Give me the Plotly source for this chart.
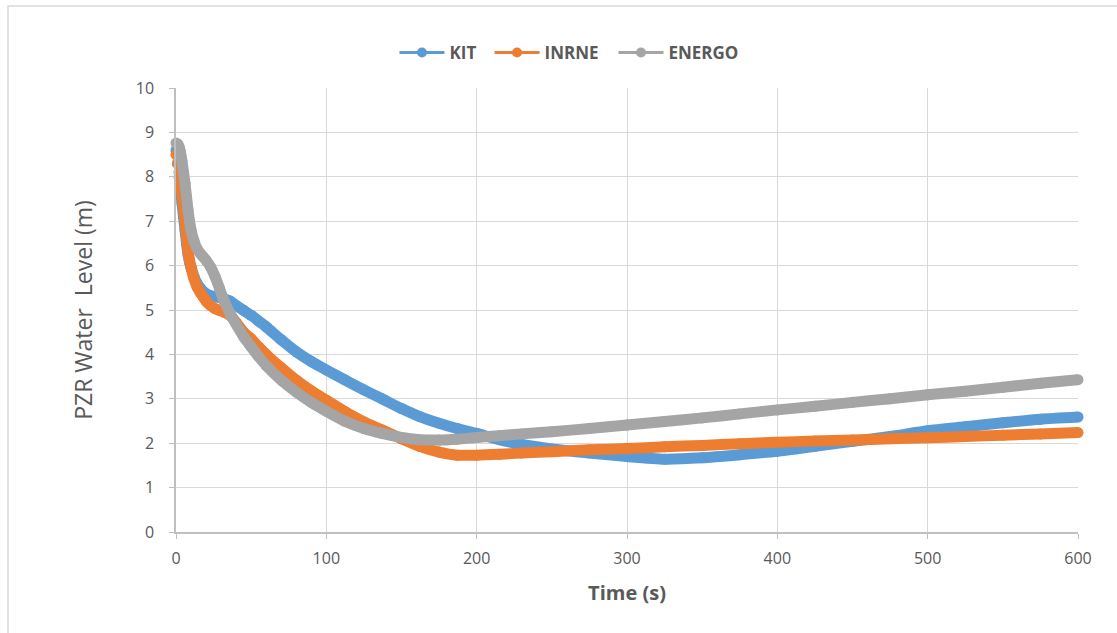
import plotly.graph_objects as go

# Time axis (s) shared by all three calculations
time_s = [0, 1, 2, 3, 4, 5, 6, 7, 8, 9, 10, 12, 14, 16, 18, 20, 23, 26, 29, 32, 36, 40,
          45, 50, 55, 60, 70, 80, 90, 100, 112, 125, 137, 150, 162, 175, 187, 200, 215,
          230, 250, 275, 300, 325, 350, 375, 400, 425, 450, 475, 500, 525, 550, 575, 600]

# Pressurizer water level (m)
kit = [8.6, 8.3, 8.0, 7.7, 7.4, 7.1, 6.8, 6.5, 6.25, 6.08, 5.97, 5.75, 5.6, 5.5, 5.42, 5.37,
       5.32, 5.3, 5.28, 5.25, 5.2, 5.1, 4.99, 4.88, 4.75, 4.62, 4.33, 4.06, 3.84, 3.65, 3.43,
       3.2, 3.0, 2.78, 2.6, 2.45, 2.33, 2.22, 2.08, 1.97, 1.87, 1.78, 1.70, 1.64, 1.67, 1.74,
       1.82, 1.93, 2.04, 2.15, 2.28, 2.37, 2.46, 2.54, 2.59]
inrne = [8.5, 8.3, 8.1, 7.9, 7.6, 7.3, 7.0, 6.65, 6.35, 6.12, 5.95, 5.7, 5.52, 5.4, 5.3, 5.2,
         5.1, 5.03, 4.99, 4.95, 4.88, 4.72, 4.5, 4.35, 4.17, 4.0, 3.7, 3.42, 3.18, 2.97, 2.72,
         2.48, 2.3, 2.1, 1.93, 1.8, 1.73, 1.73, 1.75, 1.78, 1.81, 1.85, 1.88, 1.92, 1.95, 1.99,
         2.02, 2.05, 2.07, 2.1, 2.12, 2.15, 2.18, 2.21, 2.24]
energo = [8.76, 8.74, 8.68, 8.55, 8.35, 8.1, 7.85, 7.55, 7.25, 7.0, 6.8, 6.55, 6.38, 6.28, 6.2,
          6.12, 5.97, 5.75, 5.48, 5.2, 4.92, 4.68, 4.4, 4.17, 3.95, 3.75, 3.42, 3.15, 2.92, 2.72,
          2.5, 2.33, 2.22, 2.13, 2.08, 2.07, 2.09, 2.13, 2.17, 2.21, 2.26, 2.33, 2.41, 2.49, 2.57,
          2.66, 2.75, 2.83, 2.92, 3.0, 3.09, 3.17, 3.26, 3.35, 3.43]

series = [("KIT", kit, "#5B9BD5"), ("INRNE", inrne, "#ED7D31"), ("ENERGO", energo, "#A5A5A5")]
legend_ids = ["legend", "legend2", "legend3"]
legend_x = [0.2422, 0.3476, 0.4850]  # left edge of each legend entry (paper units)

TICK_FONT = dict(family="Open Sans", size=16, color="#595959")
LEGEND_FONT = dict(family="Open Sans", size=17, color="#595959", weight="bold")
AXIS_GREY = "#BFBFBF"
GRID_GREY = "#D9D9D9"
BAND = 11  # thickness of the dense-marker band

fig = go.Figure()
for (name, values, color), lid in zip(series, legend_ids):
    fig.add_trace(go.Scatter(
        x=time_s, y=values, name=name, mode="lines+markers",
        line=dict(color=color, width=BAND, shape="spline", smoothing=0.6, simplify=False),
        marker=dict(color=color, size=BAND, line=dict(width=0)),
        cliponaxis=False, showlegend=False,
    ))
    # legend entry: thin line with a single marker
    fig.add_trace(go.Scatter(
        x=[None], y=[None], name=name, mode="lines+markers",
        line=dict(color=color, width=3),
        marker=dict(color=color, size=10),
        legend=lid,
    ))

legend_y = (532 - 53) / 444
legends = {}
for lid, lx in zip(legend_ids, legend_x):
    legends[lid] = dict(
        orientation="h", x=lx, xanchor="left", y=legend_y, yanchor="middle",
        font=LEGEND_FONT, itemwidth=45, bgcolor="rgba(0,0,0,0)",
    )

fig.update_layout(
    width=1117, height=633,
    margin=dict(l=176, r=39, t=88, b=101),
    paper_bgcolor="white", plot_bgcolor="white",
    font=dict(family="Open Sans", color="#595959"),
    **legends,
    xaxis=dict(
        range=[0, 600], dtick=100, tick0=0,
        showgrid=True, gridcolor=GRID_GREY, gridwidth=1,
        showline=True, linecolor=AXIS_GREY, linewidth=1.5,
        ticks="outside", ticklen=5, tickcolor=AXIS_GREY,
        tickfont=TICK_FONT, ticklabelstandoff=6, zeroline=False,
        title=dict(text="Time (s)", standoff=18,
                   font=dict(family="Open Sans", size=20, color="#595959", weight="bold")),
    ),
    yaxis=dict(
        range=[0, 10], dtick=1, tick0=0,
        showgrid=True, gridcolor=GRID_GREY, gridwidth=1,
        showline=True, linecolor=AXIS_GREY, linewidth=1.5,
        ticks="outside", ticklen=5, tickcolor=AXIS_GREY,
        tickfont=TICK_FONT, ticklabelstandoff=12, zeroline=False,
        title=dict(text="PZR Water  Level (m)", standoff=37,
                   font=dict(family="Open Sans", size=23, color="#595959")),
    ),
    shapes=[
        # chart-area frame
        dict(type="rect", xref="paper", yref="paper",
             x0=(8 - 176) / 902, x1=1.3, y0=-0.4, y1=(532 - 6) / 444,
             line=dict(color="#D9D9D9", width=1.5), fillcolor="rgba(0,0,0,0)", layer="below"),
    ],
)

fig.write_html("out.html", config={"displayModeBar": False})
